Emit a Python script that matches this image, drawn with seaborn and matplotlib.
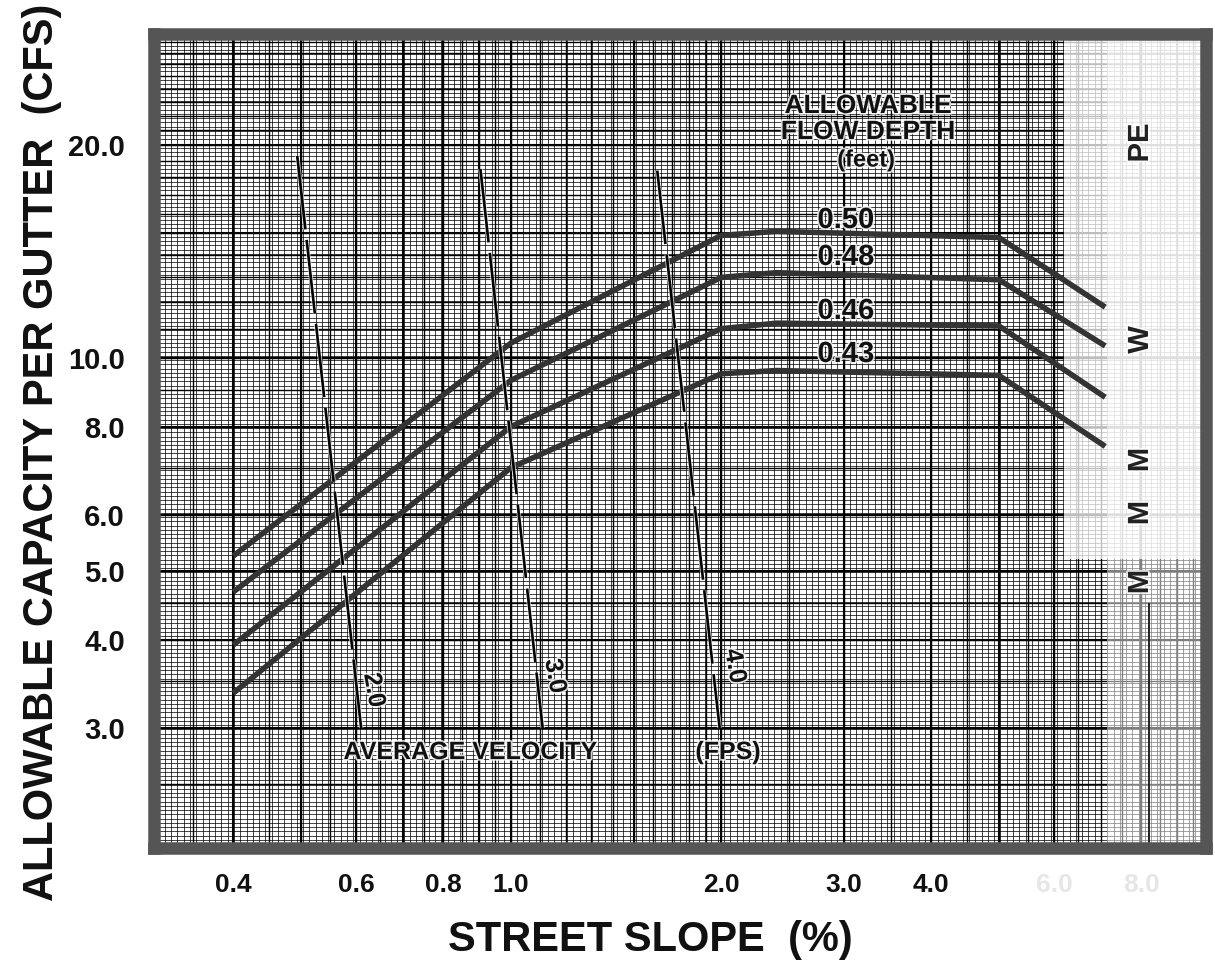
import numpy as np
import pandas as pd
import matplotlib
matplotlib.use('Agg')
import matplotlib.pyplot as plt
import matplotlib.patheffects as pe
import seaborn as sns

# street slope (%) at the break points of the capacity curves
slopes = [0.4, 1.0, 2.0, 2.4, 5.0, 7.1]
# allowable capacity per gutter (cfs), one list per allowable flow depth (ft)
cap_050 = [5.25, 10.5, 14.9, 15.1, 14.8, 11.8]
cap_048 = [4.67, 9.3, 13.0, 13.2, 12.9, 10.4]
cap_046 = [3.93, 8.0, 11.0, 11.2, 11.1, 8.8]
cap_043 = [3.36, 7.0, 9.5, 9.6, 9.45, 7.5]
depth_labels = ['0.50', '0.48', '0.46', '0.43']

# average velocity lines (fps), top and bottom end points
vel_labels = ['2.0', '3.0', '4.0']
vel_slope_top = [0.494, 0.904, 1.62]
vel_slope_bot = [0.61, 1.11, 1.99]
vel_cap_top = [19.3, 18.5, 18.4]
vel_cap_bot = [3.0, 3.0, 3.0]

# maximum allowable street slope bar
max_slope = [7.15, 7.15]
max_slope_caps = [3.18, 26.2]

x_ticks = [0.4, 0.6, 0.8, 1.0, 2.0, 3.0, 4.0, 6.0, 8.0]
x_ticklabels = ['0.4', '0.6', '0.8', '1.0', '2.0', '3.0', '4.0', '6.0', '8.0']
y_ticks = [3, 4, 5, 6, 8, 10, 20]
y_ticklabels = ['3.0', '4.0', '5.0', '6.0', '8.0', '10.0', '20.0']

sns.set_theme(style='white')
plt.rcParams['font.family'] = ['Liberation Sans', 'DejaVu Sans']
plt.rcParams['font.weight'] = 'bold'

W, H = 1215, 976
fig = plt.figure(figsize=(W / 100, H / 100), dpi=100)
ax = fig.add_axes([154 / W, 1 - 848 / H, (1206 - 154) / W, (848 - 34) / H])
ax.set_xscale('log')
ax.set_yscale('log')
ax.set_xlim(0.308, 9.9)
ax.set_ylim(2.03, 28.7)


def fp(x, y):
    return x / W, 1 - y / H


# graph paper: fine rulings evenly spaced on the log scale, heavier ones at round values
fine_x = 10 ** np.arange(np.log10(0.3), 1.0, 0.009)
fine_y = 10 ** np.arange(np.log10(2.0), np.log10(30.0), 0.006)
mid_x = np.concatenate([np.arange(0.30, 1.0, 0.05), np.arange(1.0, 2.0, 0.1),
                        np.arange(2.0, 10.0, 0.5)])
mid_y = np.concatenate([np.arange(2.0, 5.0, 0.5), np.arange(5.0, 10.0, 1.0),
                        np.arange(10.0, 30.0, 1.0)])
bold_x = [0.4, 0.5, 0.6, 0.7, 0.8, 0.9, 1.0, 1.5, 2.0, 3.0, 4.0, 5.0, 6.0, 8.0]
bold_y = [3, 4, 5, 6, 8, 10, 15, 20]
gx = ax.get_xaxis_transform()
gy = ax.get_yaxis_transform()
ax.vlines(fine_x, 0, 1, transform=gx, color='#000000', lw=0.6, alpha=0.85, zorder=1)
ax.hlines(fine_y, 0, 1, transform=gy, color='#000000', lw=0.6, alpha=0.85, zorder=1)
ax.vlines(mid_x, 0, 1, transform=gx, color='#000000', lw=1.0, zorder=1)
ax.hlines(mid_y, 0, 1, transform=gy, color='#000000', lw=1.0, zorder=1)
ax.vlines(bold_x, 0, 1, transform=gx, color='#000000', lw=1.5, zorder=1)
ax.hlines(bold_y, 0, 1, transform=gy, color='#000000', lw=1.5, zorder=1)

# lighter paper on the right strip
ax.fill_between([6.2, 10.5], 5.2, 40, color='white', alpha=0.75, lw=0, zorder=1.2)
ax.axvspan(7.15, 10.5, color='white', alpha=0.5, lw=0, zorder=1.1)

# capacity curves
df = pd.DataFrame({
    'slope': slopes * 4,
    'capacity': cap_050 + cap_048 + cap_046 + cap_043,
    'depth': sum([[d] * len(slopes) for d in depth_labels], []),
})
sns.lineplot(data=df, x='slope', y='capacity', hue='depth', units='depth',
             estimator=None, palette=['#333333'] * 4, lw=4.0, legend=False,
             ax=ax, zorder=3, solid_capstyle='butt')

# average velocity lines
halo = [pe.withStroke(linewidth=3.2, foreground='white', alpha=0.7)]
for i in range(len(vel_labels)):
    sns.lineplot(x=[vel_slope_top[i], vel_slope_bot[i]],
                 y=[vel_cap_top[i], vel_cap_bot[i]], ax=ax, color='#000000',
                 lw=1.9, linestyle=(0, (28, 4)), zorder=3, path_effects=halo)

# maximum slope bar
sns.lineplot(x=max_slope, y=max_slope_caps, ax=ax, color='#333333', lw=3.6,
             solid_capstyle='round', zorder=3)
ax.vlines(8.2, 2.0, 4.5, color='#222222', lw=1.4, zorder=3)

ax.set_xlabel('')
ax.set_ylabel('')
ax.set_xticks(x_ticks)
ax.set_xticklabels(x_ticklabels)
ax.set_yticks(y_ticks)
ax.set_yticklabels(y_ticklabels)
ax.xaxis.set_minor_locator(matplotlib.ticker.NullLocator())
ax.yaxis.set_minor_locator(matplotlib.ticker.NullLocator())
ax.tick_params(axis='x', length=0, pad=18, labelsize=19)
ax.tick_params(axis='y', length=0, pad=21, labelsize=21)
for lab in ax.get_xticklabels():
    lab.set_fontweight('bold')
    if lab.get_text() in ('6.0', '8.0'):
        lab.set_color('#e6e6e6')
    else:
        lab.set_color('#111111')
for lab in ax.get_yticklabels():
    lab.set_fontweight('bold')
    lab.set_color('#111111')

for spine in ax.spines.values():
    spine.set_color('#555555')
    spine.set_linewidth(9)
    spine.set_zorder(5)

# axis titles
fig.text(*fp(42, 452), 'ALLOWABLE CAPACITY PER GUTTER  (CFS)', rotation=90,
         ha='center', va='center', fontsize=30, fontweight='bold', color='#111111')
fig.text(*fp(650, 940), 'STREET SLOPE  (%)', ha='center', va='center',
         fontsize=30, fontweight='bold', color='#111111')

# annotations on the grid, with a faint paper-white halo
txt_fx = [pe.withStroke(linewidth=2.5, foreground='white', alpha=0.8)]
fig.text(*fp(868, 106), 'ALLOWABLE', ha='center', va='center', fontsize=19,
         fontweight='bold', color='#111111', path_effects=txt_fx)
fig.text(*fp(868, 132), 'FLOW DEPTH', ha='center', va='center', fontsize=19,
         fontweight='bold', color='#111111', path_effects=txt_fx)
fig.text(*fp(866, 160), '(feet)', ha='center', va='center', fontsize=17,
         fontweight='bold', color='#111111', path_effects=txt_fx)
for lab, yy in zip(depth_labels, [220, 257, 311, 354]):
    fig.text(*fp(846, yy), lab, ha='center', va='center', fontsize=21,
             fontweight='bold', color='#111111', path_effects=txt_fx)
fig.text(*fp(470, 752), 'AVERAGE VELOCITY', ha='center', va='center',
         fontsize=18, fontweight='bold', color='#111111', path_effects=txt_fx)
fig.text(*fp(728, 752), '(FPS)', ha='center', va='center', fontsize=18,
         fontweight='bold', color='#111111', path_effects=txt_fx)
for lab, (xx, yy) in zip(vel_labels, [(374, 690), (555, 676), (735, 666)]):
    fig.text(*fp(xx, yy), lab, rotation=-80, ha='center', va='center',
             fontsize=18, fontweight='bold', color='#111111', path_effects=txt_fx)

# letters left of the cut-off side title
for lab, yy in [('M', 582), ('M', 513), ('M', 460), ('W', 340), ('PE', 143)]:
    fig.text(*fp(1140, yy), lab, rotation=90, ha='center', va='center',
             fontsize=21, fontweight='bold', color='#222222', path_effects=txt_fx)

fig.savefig('out.png', dpi=100, facecolor='white')
